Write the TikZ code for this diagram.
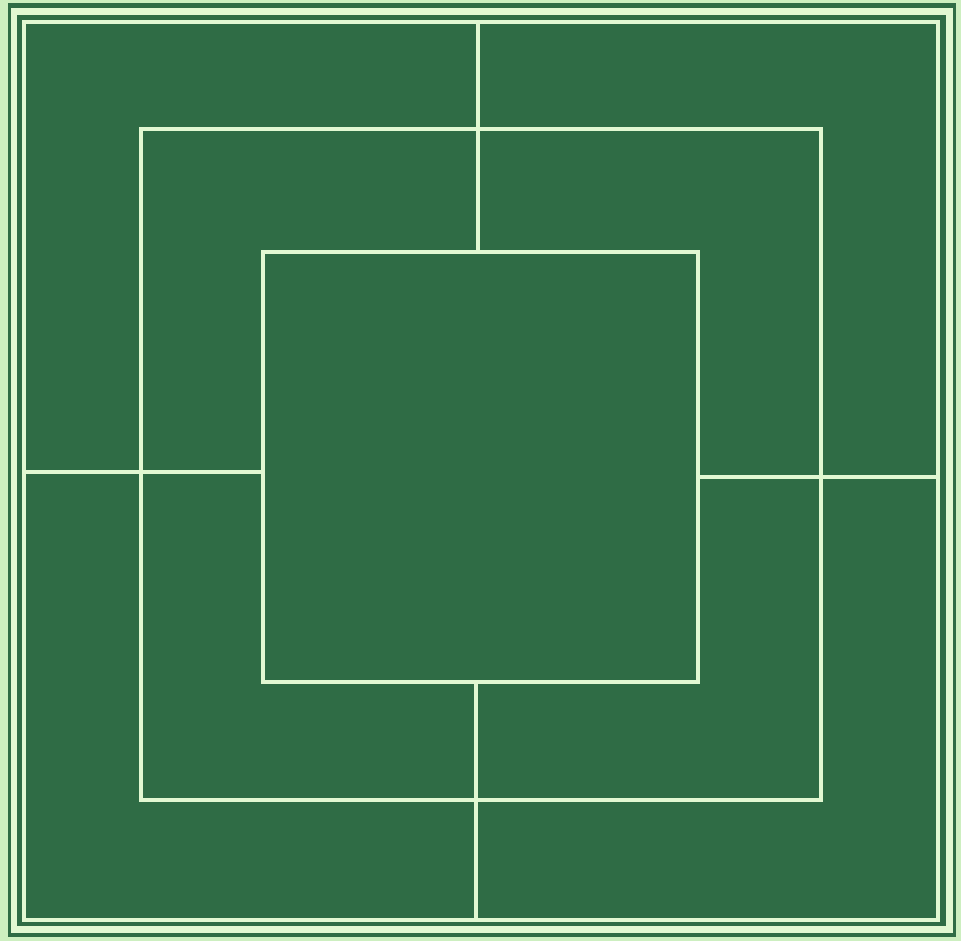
\documentclass[tikz,border=0pt]{standalone}
\usetikzlibrary{positioning}
\definecolor{Board}{HTML}{2F6C45}
\definecolor{Pale}{HTML}{CDEFC0}
\definecolor{Chalk}{HTML}{E2F8D2}

\begin{document}
\begin{tikzpicture}[x=0.02cm,y=-0.02cm,
    boardline/.style={Chalk,line width=0.08cm,line join=miter}]
    \useasboundingbox (0,0) rectangle (961,941);
    \fill[Pale] (0,0) rectangle (961,941);
    \fill[Board] (8,3) rectangle (956,937);
    % double frame
    \draw[Chalk,line width=0.14cm] (14,11) rectangle (949,929);
    \draw[boardline] (24,22) rectangle (938,920);
    % squares
    \foreach \sq/\l/\t/\r/\b in {
      out/24/22/938/920,
      mid/141/129/821/800,
      inn/263/252/698/682}{
      \coordinate (\sq-n) at (478,\t);
      \coordinate (\sq-s) at (476,\b);
      \coordinate (\sq-w) at (\l,472);
      \coordinate (\sq-e) at (\r,477);
    }
    \draw[boardline] (141,129) rectangle (821,800);
    \draw[boardline] (263,252) rectangle (698,682);
    % cross lines
    \draw[boardline] (out-n) -- (inn-n);
    \draw[boardline] (out-s) -- (inn-s);
    \draw[boardline] (out-w) -- (inn-w);
    \draw[boardline] (out-e) -- (inn-e);
  \end{tikzpicture}
\end{document}
